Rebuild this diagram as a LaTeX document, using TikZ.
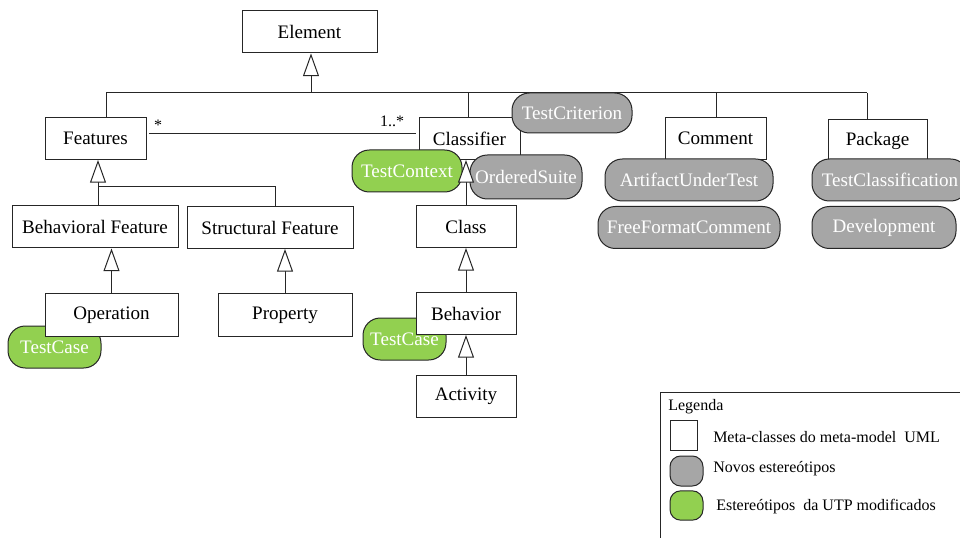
\documentclass[tikz,border=0pt]{standalone}
\usepackage{fontspec}
\setmainfont{Liberation Serif}
\usetikzlibrary{arrows.meta}
\definecolor{umlgreen}{HTML}{92D050}
\definecolor{umlgray}{HTML}{A6A6A6}
\definecolor{umlline}{HTML}{262626}
\pgfdeclarelayer{bg}
\pgfsetlayers{bg,main}
\begin{document}
\begin{tikzpicture}[x=0.75pt,y=-0.75pt,
 cls/.style={draw=umlline, fill=white, line width=0.75pt, minimum height=31.5pt, inner sep=0pt, font=\fontsize{14.3}{16}\selectfont},
 pill/.style={draw=umlline, line width=0.75pt, rounded corners=13pt, minimum height=31.5pt, inner sep=0pt, text=white, font=\fontsize{14.3}{16}\selectfont},
 gpill/.style={pill, fill=umlgray},
 vpill/.style={pill, fill=umlgreen},
 gen/.style={draw=umlline, line width=0.75pt, {Triangle[fill=white, width=12pt, length=17pt]}-},
 conn/.style={draw=umlline, line width=0.75pt},
 lbl/.style={font=\fontsize{12}{14}\selectfont, inner sep=0pt},
 leg/.style={font=\fontsize{12}{14}\selectfont, inner sep=0pt, anchor=west},
]
\useasboundingbox (0,0) rectangle (960,538);

% pills that lie behind boxes
\node[vpill, minimum width=69.75pt] (tc1) at (54.5,347) {TestCase};
\node[vpill, minimum width=62.25pt] (tc2) at (404.5,339) {TestCase};

% meta-classes
\node[cls, minimum width=101.25pt] (Element) at (309.5,32) {Element};
\node[cls, minimum width=75.75pt] (Features) at (95.5,138.5) {Features};
\node[cls, minimum width=75.75pt] (Classifier) at (469.5,138.5) {Classifier};
\node[cls, minimum width=75.75pt] (Comment) at (715.5,138.5) {Comment};
\node[cls, minimum width=74.25pt] (Package) at (877.5,140.5) {Package};
\node[cls, minimum width=124.5pt] (BehavFeat) at (95,227) {Behavioral Feature};
\node[cls, minimum width=124.5pt] (StructFeat) at (270,227.5) {Structural Feature};
\node[cls, minimum width=99.75pt] (Operation) at (111.5,315) {Operation};
\node[cls, minimum width=100.5pt] (Property) at (285,315) {Property};
\node[cls, minimum width=75pt] (Class) at (466,226.5) {Class};
\node[cls, minimum width=75pt] (Behavior) at (466,313.5) {Behavior};
\node[cls, minimum width=75pt] (Activity) at (466,396) {Activity};

% stereotypes
\node[gpill, minimum width=90pt, minimum height=30pt] (TestCriterion) at (572,113) {TestCriterion};
\node[vpill, minimum width=82.5pt] (TestContext) at (407,171) {TestContext};
\node[gpill, minimum width=84pt, minimum height=33pt] (OrderedSuite) at (526,177) {OrderedSuite};
\node[gpill, minimum width=126pt] (Artifact) at (689,180) {ArtifactUnderTest};
\node[gpill, minimum width=136.5pt] (FreeFormat) at (689,227.5) {FreeFormatComment};
\node[gpill, minimum width=117pt] (TestClass) at (890,180) {TestClassification};
\node[gpill, minimum width=108pt] (Development) at (884,227.5) {Development};

% coordinates of the buses
\coordinate (busL) at (106,93);
\coordinate (busR) at (867,93);
\coordinate (ebus) at (311,93);
\coordinate (cbus) at (468,93);
\coordinate (mbus) at (716,93);
\coordinate (fbar) at (98,187);
\coordinate (sbar) at (275,187);

\begin{pgfonlayer}{bg}
\draw[conn] (busL) -- (busR);
\draw[conn] (busL) -- (busL |- Features.north);
\draw[conn] (cbus) -- (cbus |- Classifier.north);
\draw[conn] (mbus) -- (mbus |- Comment.north);
\draw[conn] (busR) -- (busR |- Package.north);
\draw[conn] (fbar) -- (sbar) -- (sbar |- StructFeat.north);
\draw[conn] (fbar) -- (fbar |- BehavFeat.north);
\draw[conn, shorten <=2pt, shorten >=2pt] ([yshift=4pt]Features.east) -- ([yshift=4pt]Classifier.west);
\end{pgfonlayer}

% generalizations
\draw[gen] (ebus |- Element.south) -- (ebus);
\draw[gen] (fbar |- Features.south) -- (fbar);
\draw[gen] (Operation.north |- BehavFeat.south) -- (Operation.north);
\draw[gen] (Property.north |- StructFeat.south) -- (Property.north);
\draw[gen] (Class.north |- Classifier.south) -- (Class.north);
\draw[gen] (Class.south) -- (Behavior.north);
\draw[gen] (Behavior.south) -- (Activity.north);

% multiplicities
\node[lbl] (mstar) at (158,125) {*};
\node[lbl] (mone) at (392,121) {1..*};

% legend
\draw[conn] (660,392) rectangle (980,550);
\node[leg] (legt) at (668,407) {Legenda};
\node[draw=umlline, fill=white, line width=0.75pt, minimum width=20.25pt, minimum height=22.5pt, inner sep=0pt] (legbox) at (683.5,435) {};
\node[draw=umlline, fill=umlgray, line width=0.75pt, rounded corners=8pt, minimum width=24.75pt, minimum height=22.5pt, inner sep=0pt] (leggray) at (686.5,471) {};
\node[draw=umlline, fill=umlgreen, line width=0.75pt, rounded corners=8pt, minimum width=24.75pt, minimum height=22pt, inner sep=0pt] (leggreen) at (686.5,505.5) {};
\node[leg] (leg1) at (713,437) {Meta-classes do meta-model~ UML};
\node[leg] (leg2) at (713,469) {Novos estereótipos};
\node[leg] (leg3) at (716,507) {Estereótipos~ da UTP modificados};
\end{tikzpicture}
\end{document}
